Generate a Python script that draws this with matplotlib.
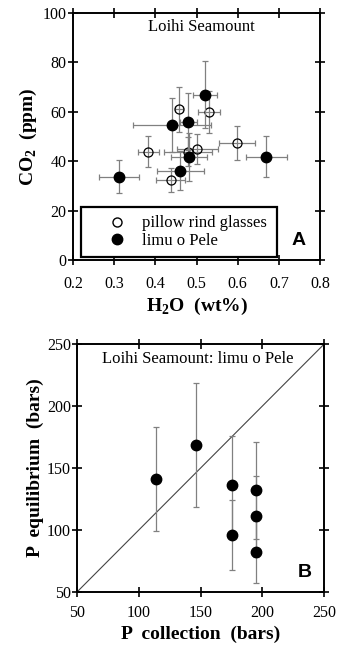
import matplotlib
matplotlib.use("Agg")
import matplotlib.pyplot as plt
from matplotlib.lines import Line2D

plt.rcParams['font.family'] = ['Liberation Serif', 'DejaVu Serif']
plt.rcParams['mathtext.fontset'] = 'custom'
plt.rcParams['mathtext.rm'] = 'Liberation Serif'
plt.rcParams['mathtext.bf'] = 'Liberation Serif:bold'

# panel A: pillow rind glasses (open)
glass_h2o = [0.458, 0.530, 0.383, 0.480, 0.502, 0.598, 0.437]
glass_co2 = [61.0, 60.0, 43.9, 43.9, 45.0, 47.3, 32.4]
glass_xerr = [0.010, 0.026, 0.025, 0.058, 0.050, 0.043, 0.035]
glass_yerr = [9.0, 8.5, 6.4, 6.0, 6.0, 7.0, 4.8]

# panel A: limu o Pele (filled)
limu_h2o = [0.312, 0.441, 0.480, 0.521, 0.481, 0.460, 0.670]
limu_co2 = [33.8, 54.7, 56.0, 66.9, 41.8, 36.2, 41.9]
limu_xerr = [0.048, 0.095, 0.020, 0.029, 0.044, 0.057, 0.050]
limu_yerr = [6.6, 11.0, 11.5, 13.5, 9.7, 8.0, 8.4]

# panel B
p_coll = [114, 146, 175.5, 175.5, 195, 195, 195]
p_eq = [141, 169, 136, 96, 132, 111, 82]
p_eq_err = [42, 50, 40, 28, 39, 33, 25]

fig = plt.figure(figsize=(3.37, 6.47), dpi=100)
axA = fig.add_axes([0.2166, 0.598, 0.733, 0.382])
axB = fig.add_axes([0.2285, 0.085, 0.733, 0.383])

ecol = '#808080'
lab_fs = 14

axA.errorbar(glass_h2o, glass_co2, xerr=glass_xerr, yerr=glass_yerr, fmt='o',
             mfc='none', mec='black', mew=0.9, ms=6.5, ecolor=ecol, elinewidth=0.9,
             capsize=2, capthick=0.9, zorder=3)
axA.errorbar(limu_h2o, limu_co2, xerr=limu_xerr, yerr=limu_yerr, fmt='o',
             mfc='black', mec='black', ms=7.5, ecolor=ecol, elinewidth=0.9,
             capsize=2, capthick=0.9, zorder=4)

axA.set_xlim(0.2, 0.8)
axA.set_ylim(0, 100)
axA.set_xticks([0.2, 0.3, 0.4, 0.5, 0.6, 0.7, 0.8])
axA.set_yticks([0, 20, 40, 60, 80, 100])
axA.set_xlabel(r'H$_\mathbf{2}$O  (wt%)', fontsize=lab_fs, fontweight='bold', labelpad=3)
axA.set_ylabel(r'CO$_\mathbf{2}$  (ppm)', fontsize=lab_fs, fontweight='bold', labelpad=3)
axA.text(0.52, 0.945, 'Loihi Seamount', transform=axA.transAxes, ha='center',
         va='center', fontsize=12)
axA.text(0.915, 0.08, 'A', transform=axA.transAxes, ha='center', va='center',
         fontsize=14, fontweight='bold', family='Liberation Sans')

handles = [Line2D([], [], ls='none', marker='o', mfc='none', mec='black', ms=6.5),
           Line2D([], [], ls='none', marker='o', mfc='black', mec='black', ms=7.5)]
leg = axA.legend(handles, ['pillow rind glasses', 'limu o Pele'], loc='lower left',
                 bbox_to_anchor=(0.031, 0.011, 0.794, 0.205), mode='expand',
                 borderaxespad=0, fancybox=False, edgecolor='black', fontsize=12,
                 handlelength=3.4, handletextpad=-0.2, borderpad=0.5,
                 labelspacing=0.1)
leg.get_frame().set_linewidth(1.6)
leg.get_frame().set_alpha(1)

axB.plot([50, 250], [50, 250], color='#444444', lw=0.8, zorder=1)
axB.errorbar(p_coll, p_eq, yerr=p_eq_err, fmt='o', mfc='black', mec='black',
             ms=7.5, ecolor=ecol, elinewidth=0.9, capsize=2, capthick=0.9, zorder=3)
axB.set_xlim(50, 250)
axB.set_ylim(50, 250)
axB.set_xticks([50, 100, 150, 200, 250])
axB.set_yticks([50, 100, 150, 200, 250])
axB.set_xlabel('P  collection  (bars)', fontsize=lab_fs, fontweight='bold', labelpad=3)
axB.set_ylabel('P  equilibrium  (bars)', fontsize=lab_fs, fontweight='bold', labelpad=2)
axB.text(0.49, 0.94, 'Loihi Seamount: limu o Pele', transform=axB.transAxes,
         ha='center', va='center', fontsize=12)
axB.text(0.92, 0.08, 'B', transform=axB.transAxes, ha='center', va='center',
         fontsize=14, fontweight='bold', family='Liberation Sans')

for ax in (axA, axB):
    for s in ax.spines.values():
        s.set_linewidth(1.4)
    ax.tick_params(axis='both', which='major', direction='inout', length=7, width=1.2,
                   labelsize=11.5, pad=1, top=True, right=True)
axA.tick_params(axis='x', pad=8)
axB.tick_params(axis='x', pad=6)

fig.savefig('out.png', dpi=100)
